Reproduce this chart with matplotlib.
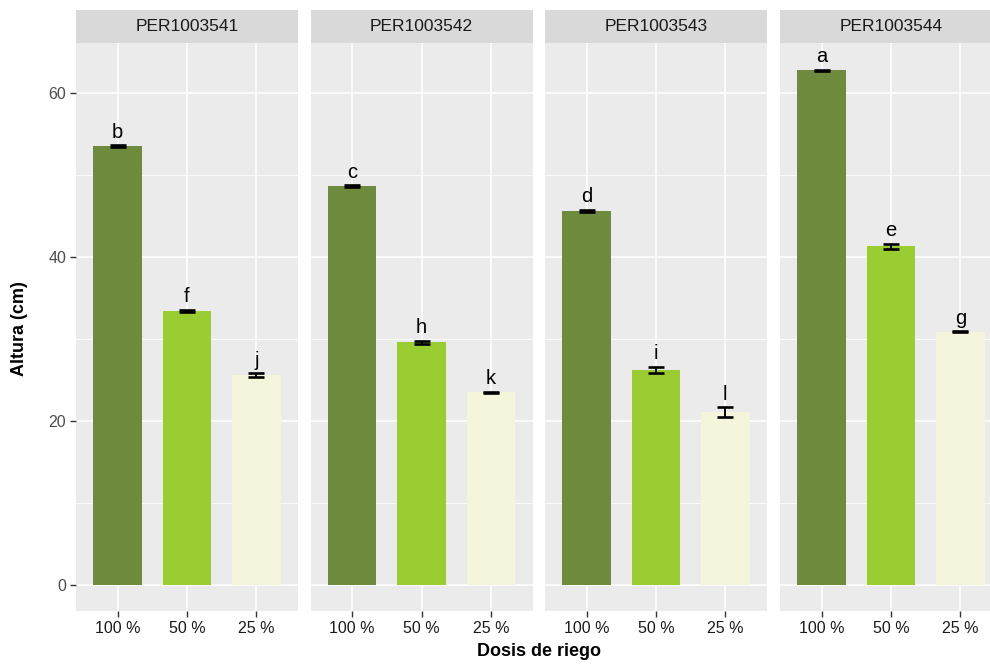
import matplotlib.pyplot as plt
import numpy as np

plt.rcParams['font.family'] = ['Liberation Sans', 'DejaVu Sans']

genotipos = ['PER1003541', 'PER1003542', 'PER1003543', 'PER1003544']
dosis = ['100 %', '50 %', '25 %']
colores = ['#6E8B3D', '#9ACD32', '#F5F5DC']

# altura media por genotipo (100 %, 50 %, 25 %)
altura_541 = [53.5, 33.4, 25.6]
altura_542 = [48.6, 29.6, 23.5]
altura_543 = [45.6, 26.2, 21.1]
altura_544 = [62.7, 41.3, 30.9]

# error estandar
se_541 = [0.1, 0.15, 0.2]
se_542 = [0.1, 0.2, 0.05]
se_543 = [0.15, 0.4, 0.6]
se_544 = [0.1, 0.3, 0.05]

letras_541 = ['b', 'f', 'j']
letras_542 = ['c', 'h', 'k']
letras_543 = ['d', 'i', 'l']
letras_544 = ['a', 'e', 'g']

alturas = [altura_541, altura_542, altura_543, altura_544]
errores = [se_541, se_542, se_543, se_544]
letras = [letras_541, letras_542, letras_543, letras_544]

W, H = 990, 669
fig = plt.figure(figsize=(W / 100, H / 100), dpi=100)

panel_left = [76, 310.5, 545, 780]
panel_w = 222
panel_top, panel_bot = 43, 611
strip_top = 10

x = np.arange(1, 4)
for i, gen in enumerate(genotipos):
    l = panel_left[i]
    ax = fig.add_axes([l / W, (H - panel_bot) / H, panel_w / W, (panel_bot - panel_top) / H])
    ax.set_facecolor('#EBEBEB')
    ax.set_xlim(0.4, 3.6)
    ax.set_ylim(-3.15, 66.05)
    ax.set_yticks([0, 20, 40, 60])
    ax.set_yticks([10, 30, 50], minor=True)
    ax.set_xticks(x)
    ax.set_xticklabels(dosis, fontsize=11.5, color='#1A1A1A')
    ax.grid(which='major', color='white', linewidth=1.1)
    ax.grid(which='minor', axis='y', color='white', linewidth=0.55)
    ax.set_axisbelow(True)
    for s in ax.spines.values():
        s.set_visible(False)
    ax.tick_params(axis='x', length=4, width=1, color='#333333', pad=3)
    ax.tick_params(axis='y', which='major', length=4, width=1, color='#333333',
                   labelsize=11.5, labelcolor='#4D4D4D', pad=3)
    ax.tick_params(axis='y', which='minor', length=0)
    if i > 0:
        ax.tick_params(axis='y', which='major', length=0, labelleft=False)

    ax.bar(x, alturas[i], width=0.7, color=colores, zorder=2)
    ax.errorbar(x, alturas[i], yerr=errores[i], fmt='none', ecolor='black',
                elinewidth=1.4, capsize=6.1, capthick=1.9, zorder=3)
    for xi, yi, ei, le in zip(x, alturas[i], errores[i], letras[i]):
        ax.annotate(le, (xi, yi + ei), xytext=(0, 2.5), textcoords='offset points',
                    ha='center', va='bottom', fontsize=14.5, color='black')

    sax = fig.add_axes([l / W, (H - panel_top) / H, panel_w / W, (panel_top - strip_top) / H])
    sax.set_facecolor('#D9D9D9')
    sax.set_xticks([])
    sax.set_yticks([])
    for s in sax.spines.values():
        s.set_visible(False)
    sax.text(0.5, 0.5, gen, ha='center', va='center', fontsize=12.5, color='#1A1A1A',
             transform=sax.transAxes)

fig.text((76 + 1002) / 2 / W, 1 - 651 / H, 'Dosis de riego', ha='center', va='center',
         fontsize=13, fontweight='bold')
fig.text(20 / W, 1 - 329 / H, 'Altura (cm)', ha='center', va='center', rotation=90,
         fontsize=13, fontweight='bold')

fig.savefig('out.png', dpi=100, facecolor='white')
